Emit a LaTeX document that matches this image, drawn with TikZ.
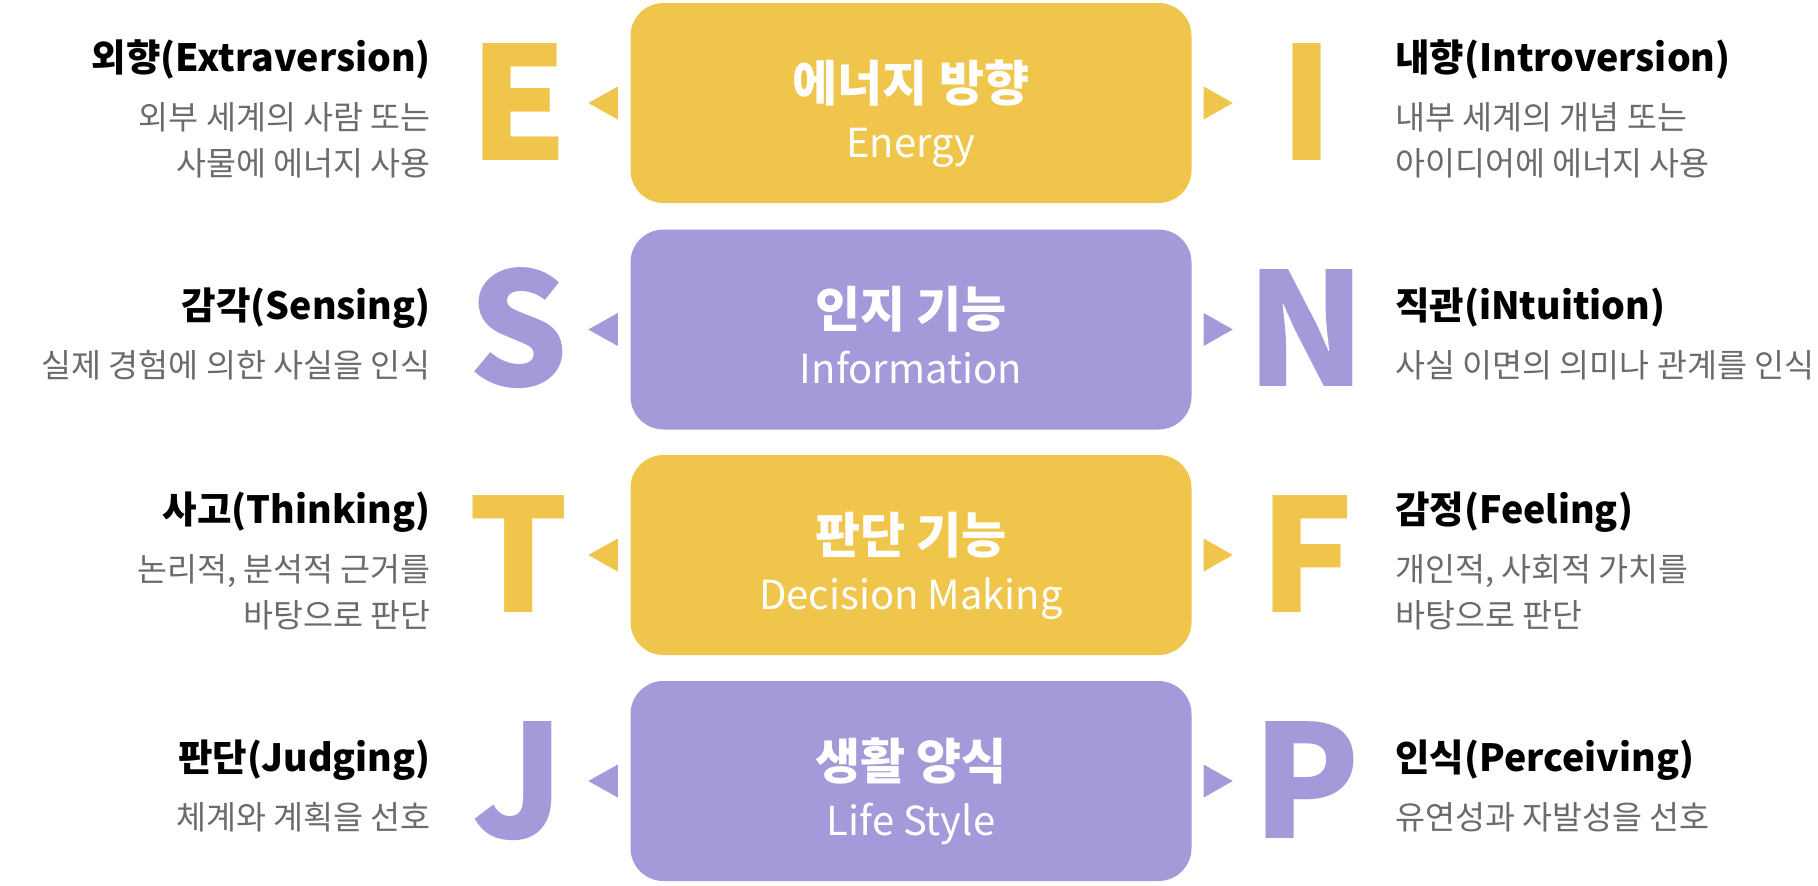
\documentclass[tikz,border=0pt]{standalone}
\usepackage{fontspec}
\setmainfont{Noto Sans CJK KR}
\usetikzlibrary{calc}
\definecolor{yel}{HTML}{F0C54B}
\definecolor{pur}{HTML}{A29AD9}
\definecolor{dgray}{HTML}{6B6B6B}
\tikzset{
  boxnode/.style={minimum width=561pt, minimum height=200pt, inner sep=0pt, draw=none, rounded corners=33pt},
  ttl/.style={font=\fontsize{49}{49}\selectfont\bfseries, text=white, inner sep=0pt, anchor=base},
  sub/.style={font=\fontsize{40}{40}\selectfont, text=white, inner sep=0pt, anchor=base},
  lhead/.style={font=\fontsize{37.5}{37.5}\selectfont\bfseries, text=black, inner sep=0pt, anchor=base east},
  rhead/.style={font=\fontsize{37.5}{37.5}\selectfont\bfseries, text=black, inner sep=0pt, anchor=base west},
  ldsc/.style={font=\fontsize{32.6}{32.6}\selectfont, text=dgray, inner sep=0pt, anchor=base east},
  rdsc/.style={font=\fontsize{32.6}{32.6}\selectfont, text=dgray, inner sep=0pt, anchor=base west},
  bigl/.style={font=\fontsize{157}{157}\selectfont\bfseries, inner sep=0pt, anchor=base},
}
\newcommand\mbtris[2]{%
  \fill[#2] ($(#1.west)+(-12.5,16.5)$) -- ++(0,-33) -- ++(-29.5,16.5) -- cycle;
  \fill[#2] ($(#1.east)+(12,16.5)$) -- ++(0,-33) -- ++(29,16.5) -- cycle;
}
\begin{document}
\begin{tikzpicture}[x=1pt,y=1pt]
\useasboundingbox (0,0) rectangle (1818,-886);
% boxes
\node[boxnode, fill=yel] (b1) at (911,-103) {};
\node[boxnode, fill=pur] (b2) at (911,-329.5) {};
\node[boxnode, fill=yel] (b3) at (911,-555) {};
\node[boxnode, fill=pur] (b4) at (911,-781) {};
\mbtris{b1}{yel}
\mbtris{b2}{pur}
\mbtris{b3}{yel}
\mbtris{b4}{pur}
% titles
\node[ttl] (t1) at ($(b1.center)+(0,2)$) {에너지 방향};
\node[sub] (s1) at ($(b1.center)+(0,-54)$) {Energy};
\node[ttl] (t2) at ($(b2.center)+(0,2)$) {인지 기능};
\node[sub] (s2) at ($(b2.center)+(0,-54)$) {Information};
\node[ttl] (t3) at ($(b3.center)+(0,2)$) {판단 기능};
\node[sub] (s3) at ($(b3.center)+(0,-54)$) {Decision Making};
\node[ttl] (t4) at ($(b4.center)+(0,2)$) {생활 양식};
\node[sub] (s4) at ($(b4.center)+(0,-54)$) {Life Style};
% big letters
\node[bigl, text=yel] (E) at (518.5,-160) {E};
\node[bigl, text=yel] (I) at (1306.5,-160) {I};
\node[bigl, text=pur] (S) at (518.5,-386.5) {S};
\node[bigl, text=pur] (N) at (1306.5,-386.5) {N};
\node[bigl, text=yel] (T) at (518.5,-612) {T};
\node[bigl, text=yel] (F) at (1306.5,-612) {F};
\node[bigl, text=pur] (J) at (518.5,-838) {J};
\node[bigl, text=pur] (P) at (1306.5,-838) {P};
% row 1
\node[lhead] (h1l) at (431,-71) {외향(Extraversion)};
\node[ldsc] (d1la) at (431,-129) {외부 세계의 사람 또는};
\node[ldsc] (d1lb) at (431,-175) {사물에 에너지 사용};
\node[rhead] (h1r) at (1395,-71) {내향(Introversion)};
\node[rdsc] (d1ra) at (1395,-129) {내부 세계의 개념 또는};
\node[rdsc] (d1rb) at (1395,-175) {아이디어에 에너지 사용};
% row 2
\node[lhead] (h2l) at (431,-319.5) {감각(Sensing)};
\node[ldsc] (d2l) at (431,-377.5) {실제 경험에 의한 사실을 인식};
\node[rhead] (h2r) at (1395,-319.5) {직관(iNtuition)};
\node[rdsc] (d2r) at (1395,-377.5) {사실 이면의 의미나 관계를 인식};
% row 3
\node[lhead] (h3l) at (431,-523) {사고(Thinking)};
\node[ldsc] (d3la) at (431,-581) {논리적, 분석적 근거를};
\node[ldsc] (d3lb) at (431,-627) {바탕으로 판단};
\node[rhead] (h3r) at (1395,-523) {감정(Feeling)};
\node[rdsc] (d3ra) at (1395,-581) {개인적, 사회적 가치를};
\node[rdsc] (d3rb) at (1395,-627) {바탕으로 판단};
% row 4
\node[lhead] (h4l) at (431,-771) {판단(Judging)};
\node[ldsc] (d4l) at (431,-829) {체계와 계획을 선호};
\node[rhead] (h4r) at (1395,-771) {인식(Perceiving)};
\node[rdsc] (d4r) at (1395,-829) {유연성과 자발성을 선호};
\end{tikzpicture}
\end{document}
